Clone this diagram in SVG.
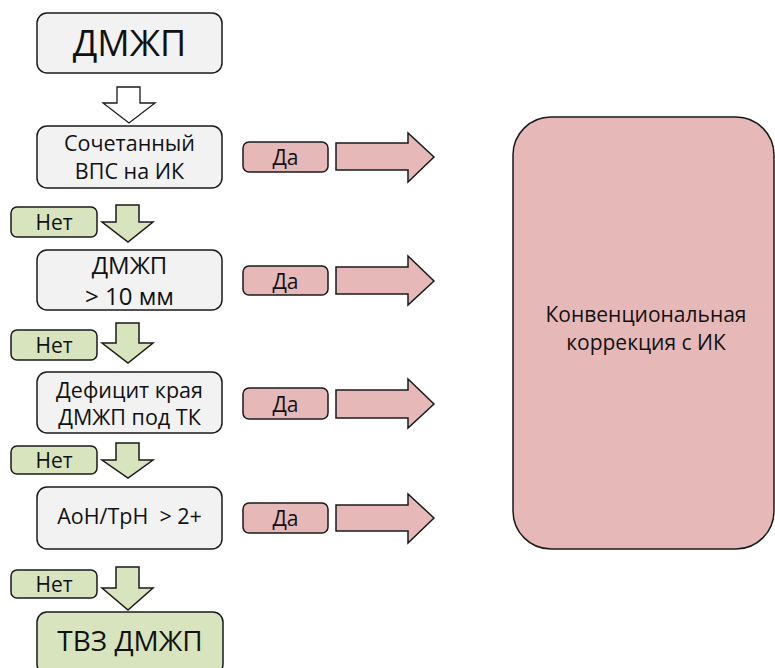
<svg xmlns="http://www.w3.org/2000/svg" width="775" height="668" viewBox="0 0 775 668">
<style>
text{font-family:"Open Sans","Noto Sans",sans-serif;fill:#111;text-anchor:middle}
.g{fill:#f2f2f2;stroke:#1a1a1a;stroke-width:1.5}
.gr{fill:#d7e4bd;stroke:#1a1a1a;stroke-width:1.5}
.pk{fill:#e6b9b8;stroke:#1a1a1a;stroke-width:1.5}
.w{fill:#ffffff;stroke:#1a1a1a;stroke-width:1.3}
.t{font-size:21px}
.s{font-size:21.5px}
.l{font-size:21px}
</style>
<rect width="775" height="668" fill="#fff"/>
<g id="n1"><rect class="g" x="37" y="13" width="185" height="60" rx="10"/><text x="129.5" y="56" font-size="36">ДМЖП</text></g>
<g id="n2"><rect class="g" x="37" y="126" width="185" height="62" rx="10"/><text class="s" x="129.5" y="151">Сочетанный</text><text class="s" x="129.5" y="179">ВПС на ИК</text></g>
<g id="n3"><rect class="g" x="37" y="250" width="185" height="60" rx="10"/><text x="129.5" y="274" font-size="24">ДМЖП</text><text x="129.5" y="305" font-size="24">&gt; 10 мм</text></g>
<g id="n4"><rect class="g" x="37" y="372" width="185" height="61" rx="10"/><text class="s" x="129.5" y="398">Дефицит края</text><text class="s" x="129.5" y="425">ДМЖП под ТК</text></g>
<g id="n5"><rect class="g" x="37" y="487" width="185" height="62" rx="10"/><text class="s" x="129.5" y="524" xml:space="preserve">АоН/ТрН  &gt; 2+</text></g>
<g id="n6"><rect class="gr" x="37" y="612" width="186" height="62" rx="10"/><text x="130" y="651" font-size="28">ТВЗ ДМЖП</text></g>
<g id="n7"><rect class="pk" x="513" y="117" width="261" height="432" rx="38"/><text class="t" x="646" y="322">Конвенциональная</text><text class="t" x="646" y="350">коррекция с ИК</text></g>
<g id="labels">
<g id="no1"><rect class="gr" x="11" y="207" width="86" height="30" rx="6"/><text class="l" x="54" y="230">Нет</text></g>
<g id="no2"><rect class="gr" x="11" y="330" width="86" height="30" rx="6"/><text class="l" x="54" y="353">Нет</text></g>
<g id="no3"><rect class="gr" x="11" y="446" width="86" height="28" rx="6"/><text class="l" x="54" y="468">Нет</text></g>
<g id="no4"><rect class="gr" x="11" y="570" width="86" height="28" rx="6"/><text class="l" x="54" y="592">Нет</text></g>
<g id="yes1"><rect class="pk" x="243" y="142" width="85" height="30" rx="6"/><text class="l" x="285.5" y="165" font-size="22">Да</text></g>
<g id="yes2"><rect class="pk" x="243" y="266" width="85" height="29" rx="6"/><text class="l" x="285.5" y="289" font-size="22">Да</text></g>
<g id="yes3"><rect class="pk" x="243" y="388" width="85" height="31" rx="6"/><text class="l" x="285.5" y="412" font-size="22">Да</text></g>
<g id="yes4"><rect class="pk" x="243" y="503" width="85" height="30" rx="6"/><text class="l" x="285.5" y="526" font-size="22">Да</text></g>
</g>
<g id="connectors">
<path class="w" d="M117,87 H140 V103 H155 L129,123 L103,103 H117 Z"/>
<path class="gr" d="M116,205 H139 V222 H153 L128,242 L102,222 H116 Z"/>
<path class="gr" d="M116,323 H139 V343 H153 L128,363 L102,343 H116 Z"/>
<path class="gr" d="M116,443 H139 V460 H153 L128,478 L102,460 H116 Z"/>
<path class="gr" d="M116,567 H139 V588 H153 L128,610 L102,588 H116 Z"/>
<path class="pk" d="M336,143 H408 V133 L434,157 L408,182 V170 H336 Z"/>
<path class="pk" d="M336,267 H408 V256 L434,281 L408,305 V294 H336 Z"/>
<path class="pk" d="M336,390 H408 V379 L434,404 L408,428 V418 H336 Z"/>
<path class="pk" d="M336,505 H408 V494 L434,518 L408,543 V531 H336 Z"/>
</g>
</svg>
